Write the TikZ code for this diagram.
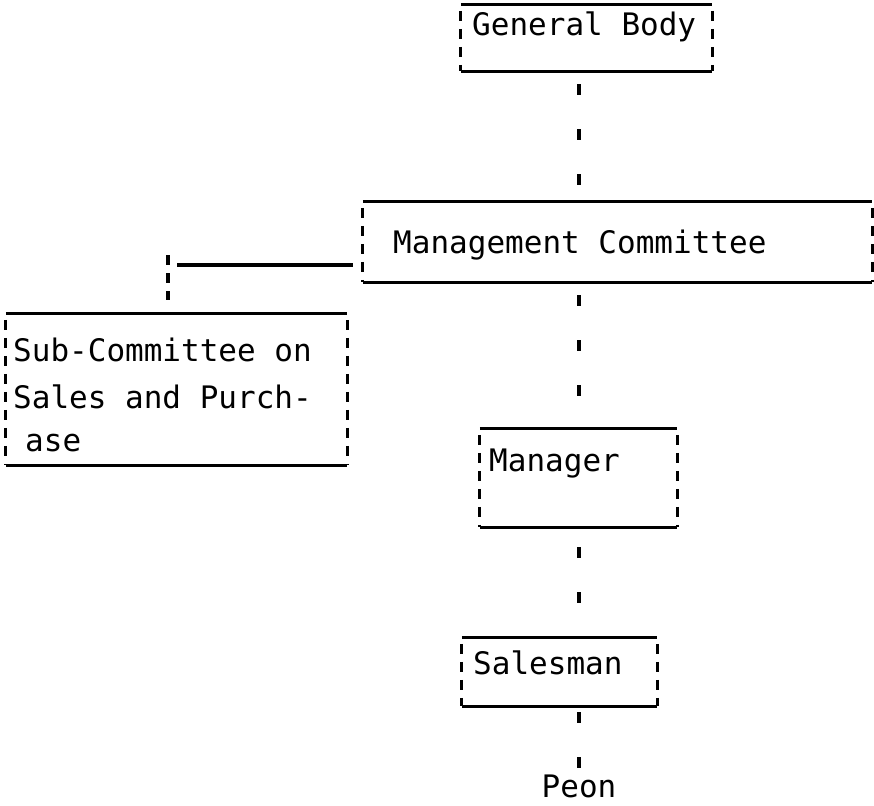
\documentclass[tikz,border=0pt]{standalone}
\usepackage{fontspec}
\newfontfamily\typewriter{DejaVu Sans Mono}
\usetikzlibrary{positioning}

\begin{document}
\begin{tikzpicture}[x=1pt, y=-1pt,
    box/.style={rectangle, inner sep=0pt},
    typed/.style={anchor=base west, inner sep=0pt, font=\typewriter\fontsize{31}{40}\selectfont},
    rule/.style={draw=black, line width=3.2pt},
    side/.style={draw=black, line width=3.2pt, dash pattern=on 10pt off 8pt},
    link/.style={draw=black, line width=3.4pt, dash pattern=on 11pt off 34pt}]
    \useasboundingbox (0,0) rectangle (874,805);
    % boxes
    \node[box, minimum width=251pt, minimum height=66pt] (gb) at (586.5,38) {};
    \node[box, minimum width=509pt, minimum height=80pt] (mc) at (617.5,242) {};
    \node[box, minimum width=341pt, minimum height=151pt] (sub) at (176.5,389.5) {};
    \node[box, minimum width=197pt, minimum height=98pt] (mgr) at (578.5,478) {};
    \node[box, minimum width=195pt, minimum height=68pt] (sal) at (559.5,672) {};
    \foreach \b in {gb,mc,sub,mgr,sal}{
      \path[rule] (\b.north west) -- (\b.north east);
      \path[rule] (\b.south west) -- (\b.south east);
      \path[side] ([yshift=-6pt]\b.north west) -- (\b.south west);
      \path[side] ([yshift=-6pt]\b.north east) -- (\b.south east);
    }
    % texts
    \node[typed] (gbtext) at (472,36) {General Body};
    \node[typed] (mctext) at (393,253) {Management Committee};
    \node[typed] (subtext1) at (13,361) {Sub-Committee on};
    \node[typed] (subtext2) at (13,408) {Sales and Purch-};
    \node[typed] (subtext3) at (25,451) {ase};
    \node[typed] (mgrtext) at (489,471) {Manager};
    \node[typed] (saltext) at (473,674) {Salesman};
    \node[typed, anchor=base] (peon) at (579,797) {Peon};
    % connectors
    \coordinate (split) at (168,265);
    \path[rule, shorten <=9pt, shorten >=10pt] (split) -- (mc.west |- split);
    \path[side, shorten >=14pt] ([yshift=10pt]split) -- (sub.north -| split);
    \path[link, shorten <=13pt] (gb.south -| peon) -- (mc.north -| peon);
    \path[link, shorten <=13pt] (mc.south -| peon) -- (mgr.north -| peon);
    \path[link, shorten <=20pt] (mgr.south -| peon) -- (sal.north -| peon);
    \path[link, shorten <=6pt] (sal.south -| peon) -- (peon);
\end{tikzpicture}
\end{document}
